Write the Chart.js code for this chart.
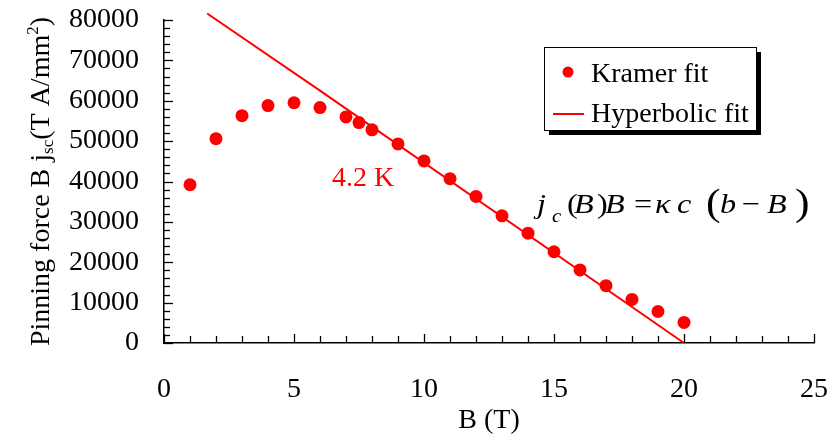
<!DOCTYPE html>
<html>
<head>
<meta charset="utf-8">
<script src="https://cdn.jsdelivr.net/npm/chart.js@4.4.1/dist/chart.umd.min.js"></script>
<style>
  html, body { margin: 0; padding: 0; background: #fff; }
</style>
</head>
<body>
<canvas id="chart" width="839" height="435"></canvas>
<script>
// Kramer fit points (B in T, pinning force)
const kramerB = [1, 2, 3, 4, 5, 6, 7, 7.5, 8, 9, 10, 11, 12, 13, 14, 15, 16, 17, 18, 19, 20];
const kramerF = [39200, 50600, 56300, 58800, 59500, 58300, 56000, 54600, 52800, 49300, 45100, 40700, 36300, 31500, 27200, 22600, 18100, 14200, 10800, 7800, 5100];

// Hyperbolic fit line
const hyperB = [1.66, 6, 20];
const hyperF = [81600, 62500, 0];

const xTicks = [0, 5, 10, 15, 20, 25];
const yTicks = [0, 10000, 20000, 30000, 40000, 50000, 60000, 70000, 80000];

const RED = '#ff0000';
const SERIF = '"Liberation Serif", "Times New Roman", serif';

function font(size, italic) {
  return (italic ? 'italic ' : '') + size + 'px ' + SERIF;
}

// axis titles, ticks, legend and notes
const decorPlugin = {
  id: 'decor',
  afterDraw(chart) {
    const ctx = chart.ctx;
    const xs = chart.scales.x;
    const ys = chart.scales.y;
    const area = chart.chartArea;

    ctx.save();
    // tick marks pointing inwards
    ctx.strokeStyle = '#000';
    ctx.lineWidth = 1.3;
    for (let v = 0; v <= 80000; v += 2000) {
      const py = Math.round(ys.getPixelForValue(v)) + 0.5;
      const len = v % 10000 === 0 ? 9 : 6;
      ctx.beginPath();
      ctx.moveTo(area.left, py);
      ctx.lineTo(area.left + len, py);
      ctx.stroke();
    }
    for (let v = 0; v <= 25; v += 1) {
      const px = Math.round(xs.getPixelForValue(v)) + 0.5;
      const len = v % 5 === 0 ? 9 : 7;
      ctx.beginPath();
      ctx.moveTo(px, area.bottom);
      ctx.lineTo(px, area.bottom - len);
      ctx.stroke();
    }

    // y axis title with sub/superscript
    const parts = [
      { t: 'Pinning force B j', s: 28, dy: 0 },
      { t: 'sc', s: 17, dy: 4 },
      { t: '(T A/mm', s: 28, dy: 0 },
      { t: '2', s: 17, dy: -11 },
      { t: ')', s: 28, dy: 0 }
    ];
    let total = 0;
    parts.forEach(p => { ctx.font = font(p.s); p.w = ctx.measureText(p.t).width; total += p.w; });
    ctx.translate(49, (area.top + area.bottom) / 2);
    ctx.rotate(-Math.PI / 2);
    ctx.fillStyle = '#000';
    ctx.textBaseline = 'alphabetic';
    ctx.textAlign = 'left';
    let cx = -total / 2;
    parts.forEach(p => {
      ctx.font = font(p.s);
      ctx.fillText(p.t, cx, p.dy);
      cx += p.w;
    });
    ctx.restore();

    // legend box
    ctx.save();
    const lx = 544, ly = 47, lw = 212, lh = 83;
    ctx.fillStyle = '#000';
    ctx.fillRect(lx + 5, ly + 5, lw, lh);
    ctx.fillStyle = '#fff';
    ctx.fillRect(lx, ly, lw, lh);
    ctx.strokeStyle = '#000';
    ctx.lineWidth = 1;
    ctx.strokeRect(lx + 0.5, ly + 0.5, lw, lh);
    const ds = chart.data.datasets;
    ctx.fillStyle = ds[0].backgroundColor;
    ctx.beginPath();
    ctx.arc(568, 72, 5.5, 0, Math.PI * 2);
    ctx.fill();
    ctx.strokeStyle = ds[1].borderColor;
    ctx.lineWidth = 2;
    ctx.beginPath();
    ctx.moveTo(553, 114);
    ctx.lineTo(584, 114);
    ctx.stroke();
    ctx.fillStyle = '#000';
    ctx.font = font(28);
    ctx.textBaseline = 'alphabetic';
    ctx.fillText(ds[0].label, 591, 82);
    ctx.fillText(ds[1].label, 591, 122);

    // temperature note
    ctx.fillStyle = RED;
    ctx.fillText('4.2 K', 332, 186);

    // equation, glyphs placed like the equation-editor spacing
    const eq = [
      { t: 'j', s: 28, it: true, x: 537, dy: 0 },
      { t: 'c', s: 18, it: true, x: 552, dy: 9 },
      { t: '(', s: 28, it: false, x: 567, dy: 0 },
      { t: 'B', s: 28, it: true, x: 574, dy: 0 },
      { t: ')', s: 28, it: false, x: 597, dy: 0 },
      { t: 'B', s: 28, it: true, x: 605, dy: 0 },
      { t: '=', s: 28, it: false, x: 634, dy: 0 },
      { t: '\u03BA', s: 28, it: true, x: 655, dy: 0 },
      { t: 'c', s: 28, it: true, x: 677, dy: 0 },
      { t: '(', s: 38, it: false, x: 706, dy: 2 },
      { t: 'b', s: 28, it: true, x: 720, dy: 0 },
      { t: '\u2212', s: 28, it: false, x: 742, dy: 0 },
      { t: 'B', s: 28, it: true, x: 767, dy: 0 },
      { t: ')', s: 38, it: false, x: 795, dy: 2 }
    ];
    ctx.fillStyle = '#000';
    eq.forEach(p => {
      ctx.save();
      ctx.translate(p.x, 213 + p.dy);
      ctx.scale(1.15, 1);
      ctx.font = font(p.s, p.it);
      ctx.fillText(p.t, 0, 0);
      ctx.restore();
    });
    ctx.restore();
  }
};

new Chart(document.getElementById('chart'), {
  type: 'scatter',
  data: {
    datasets: [
      {
        label: 'Kramer fit',
        data: kramerB.map((b, i) => ({ x: b, y: kramerF[i] })),
        backgroundColor: RED,
        borderWidth: 0,
        pointRadius: 6.5,
        order: 1
      },
      {
        label: 'Hyperbolic fit',
        data: hyperB.map((b, i) => ({ x: b, y: hyperF[i] })),
        showLine: true,
        borderColor: RED,
        backgroundColor: RED,
        borderWidth: 2,
        pointRadius: 0,
        clip: 10,
        order: 2
      }
    ]
  },
  options: {
    responsive: false,
    animation: false,
    events: [],
    layout: { padding: { left: 0, right: 25, top: 20, bottom: 0 } },
    plugins: {
      legend: { display: false },
      tooltip: { enabled: false }
    },
    scales: {
      x: {
        type: 'linear',
        min: 0,
        max: 25,
        afterBuildTicks: s => { s.ticks = xTicks.map(v => ({ value: v })); },
        afterFit: s => { s.height = 92; s.paddingLeft = 0; s.paddingRight = 0; },
        grid: { display: false, drawTicks: false },
        border: { display: true, color: '#000', width: 1.5 },
        ticks: {
          color: '#000',
          font: { family: SERIF, size: 28 },
          padding: 30,
          maxRotation: 0,
          callback: v => String(v)
        },
        title: {
          display: true,
          text: 'B (T)',
          color: '#000',
          font: { family: SERIF, size: 28 },
          padding: { top: 0, bottom: -2 }
        }
      },
      y: {
        min: 0,
        max: 80000,
        afterBuildTicks: s => { s.ticks = yTicks.map(v => ({ value: v })); },
        afterFit: s => { s.width = 164; s.paddingTop = 0; s.paddingBottom = 0; },
        grid: { display: false, drawTicks: false },
        border: { display: true, color: '#000', width: 1.5 },
        ticks: {
          color: '#000',
          font: { family: SERIF, size: 28 },
          padding: 25,
          callback: v => String(v)
        }
      }
    }
  },
  plugins: [decorPlugin]
});
</script>
</body>
</html>
